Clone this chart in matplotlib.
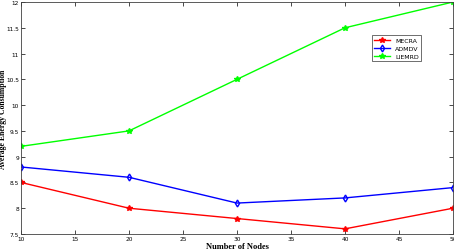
import matplotlib
matplotlib.use("Agg")
import matplotlib.pyplot as plt

nodes = [10, 20, 30, 40, 50]
mecra = [8.5, 8.0, 7.8, 7.6, 8.0]
admdv = [8.8, 8.6, 8.1, 8.2, 8.4]
liemrd = [9.2, 9.5, 10.5, 11.5, 12.0]

fig = plt.figure(figsize=(4.54, 2.51), dpi=100)
ax = fig.add_axes([21 / 454, 16 / 251, 432 / 454, 232 / 251])

ax.plot(nodes, mecra, color="#ff0000", marker="*", markersize=4, linewidth=1, label="MECRA")
ax.plot(nodes, admdv, color="#0000ff", marker="d", markersize=3.5, linewidth=1,
        markerfacecolor="none", label="ADMDV")
ax.plot(nodes, liemrd, color="#00ff00", marker="*", markersize=4, linewidth=1, label="LIEMRD")

ax.set_xlim(10, 50)
ax.set_ylim(7.5, 12)
ax.set_xticks(range(10, 51, 5))
ax.set_yticks([7.5 + 0.5 * i for i in range(10)])
ax.set_yticklabels(["7.5", "8", "8.5", "9", "9.5", "10", "10.5", "11", "11.5", "12"])
ax.tick_params(direction="in", labelsize=4.2, length=3, width=0.5, pad=1.5,
               top=True, right=True)
for s in ax.spines.values():
    s.set_linewidth(0.6)
    s.set_color("#404040")

ax.set_xlabel("Number of Nodes", fontsize=6, fontweight="bold", family="Liberation Serif", labelpad=1)
ax.set_ylabel("Average Energy Consumption", fontsize=5.6, fontweight="bold", family="Liberation Serif")
ax.yaxis.label.set_verticalalignment("center")
ax.yaxis.set_label_coords(-0.041, 0.5)

leg = ax.legend(loc="upper left", bbox_to_anchor=(0.805, 0.87), fontsize=4.5,
                frameon=True, fancybox=False, edgecolor="black", borderpad=0.4,
                handlelength=2.5, labelspacing=0.4)
leg.get_frame().set_linewidth(0.5)

fig.savefig("out.png", dpi=100)
